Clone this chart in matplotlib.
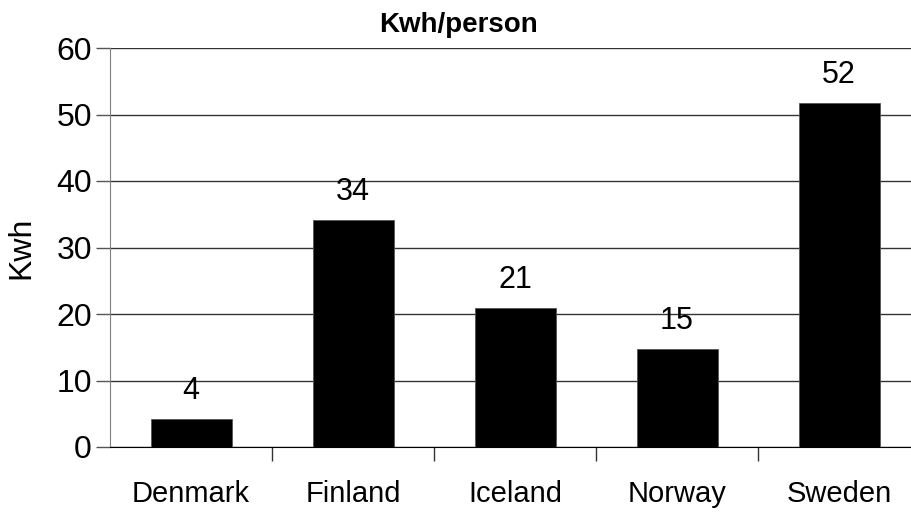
import numpy as np
import matplotlib
matplotlib.use('Agg')
from matplotlib import pyplot as plt

countries = ['Denmark', 'Finland', 'Iceland', 'Norway', 'Sweden']
kwh = [4.2, 34.1, 20.9, 14.7, 51.7]
yticks = [0, 10, 20, 30, 40, 50, 60]

plt.rcParams['font.family'] = ['Liberation Sans', 'DejaVu Sans']

fig = plt.figure(figsize=(9.12, 5.12), dpi=100)
ax = fig.add_axes([110 / 912, 65 / 512, 810 / 912, 399 / 512])

x = np.arange(len(countries))
ax.bar(x, kwh, width=0.5, color='black', edgecolor='#555555', linewidth=0.6, zorder=3)
for xi, v in zip(x, kwh):
    ax.text(xi, v + 2.0, '%.0f' % v, ha='center', va='bottom', fontsize=22)

ax.set_xlim(-0.5, len(countries) - 0.5)
ax.set_ylim(0, 60)
ax.set_yticks(yticks)
ax.set_yticklabels([str(t) for t in yticks], fontsize=23)
ax.yaxis.grid(True, color='#333333', linewidth=1.0)
ax.set_axisbelow(True)

# category labels centred, tick marks between categories
ax.set_xticks(x)
ax.set_xticklabels(countries, fontsize=21)
ax.tick_params(axis='x', length=0, pad=24)
ax.set_xticks(np.arange(len(countries)) + 0.5, minor=True)
ax.tick_params(axis='x', which='minor', length=10, width=1, color='#333333', direction='out')
ax.tick_params(axis='y', length=10, width=1, color='#555555', pad=3)

for s in ['top', 'right']:
    ax.spines[s].set_visible(False)
ax.spines['left'].set_color('#808080')
ax.spines['bottom'].set_color('black')

ax.set_ylabel('Kwh', fontsize=23)
ax.yaxis.set_label_coords(-74 / 810, 0.5)
fig.text(459 / 912, 1 - 25 / 512, 'Kwh/person', ha='center', va='center',
         fontsize=20, fontweight='bold')

fig.savefig('out.png', dpi=100)
